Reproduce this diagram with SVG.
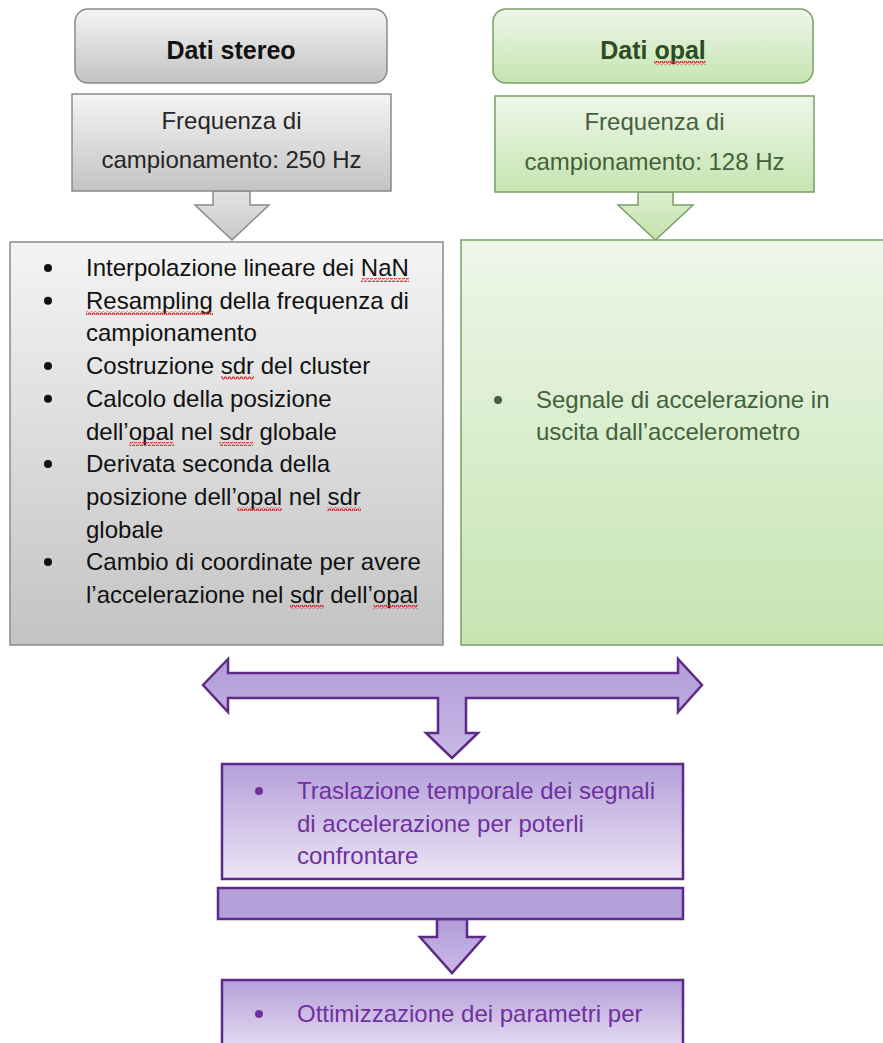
<svg xmlns="http://www.w3.org/2000/svg" width="883" height="1043" viewBox="0 0 883 1043">
<defs>
<linearGradient id="gGray" x1="0" y1="0" x2="0" y2="1"><stop offset="0" stop-color="#f4f4f4"/><stop offset="1" stop-color="#c3c3c3"/></linearGradient>
<linearGradient id="gGreen" x1="0" y1="0" x2="0" y2="1"><stop offset="0" stop-color="#eef6e9"/><stop offset="1" stop-color="#c5e5b1"/></linearGradient>
<linearGradient id="gPurple" x1="0" y1="0" x2="0" y2="1"><stop offset="0" stop-color="#b5a0da"/><stop offset="1" stop-color="#ece5f4"/></linearGradient>
<linearGradient id="gPurpleArrow" x1="0" y1="0" x2="0" y2="1"><stop offset="0" stop-color="#b29cd8"/><stop offset="1" stop-color="#c9b9e6"/></linearGradient>
<linearGradient id="gGrayArrow" x1="0" y1="0" x2="0" y2="1"><stop offset="0" stop-color="#e2e2e2"/><stop offset="1" stop-color="#c9c9c9"/></linearGradient>
<linearGradient id="gGreenArrow" x1="0" y1="0" x2="0" y2="1"><stop offset="0" stop-color="#dcefd0"/><stop offset="1" stop-color="#c2e2ac"/></linearGradient>
<pattern id="wave" width="4" height="4" patternUnits="userSpaceOnUse">
<path d="M0,3 L1,1 L2,1 L3,3 L4,3" fill="none" stroke="#d9232a" stroke-width="1.2"/>
</pattern>
<style>
.t{font-family:"Liberation Sans",Arial,sans-serif;font-size:24px}
.h{font-family:"Liberation Sans",Arial,sans-serif;font-size:25px;font-weight:bold}
.gray{fill:url(#gGray);stroke:#8a8a8a;stroke-width:1.5}
.green{fill:url(#gGreen);stroke:#7a9e66;stroke-width:1.5}
.purple{fill:url(#gPurple);stroke:#5e2a88;stroke-width:2.5}
.tg{fill:#262626}
.tgr{fill:#43613a}
.tp{fill:#7030a0}
.sq{fill:url(#wave)}
</style>
</defs>

<g id="connectors">
<path d="M213,191 L250,191 L250,205 L269,205 L232,240 L195,205 L213,205 Z" fill="url(#gGrayArrow)" stroke="#8a8a8a" stroke-width="1.5"/>
<path d="M638,192 L673,192 L673,205 L693,205 L655.5,240 L618,205 L638,205 Z" fill="url(#gGreenArrow)" stroke="#7a9e66" stroke-width="1.5"/>
<path d="M203,685 L228,659 L228,673 L678,673 L678,659 L702,685 L678,712 L678,698 L466,698 L466,733 L478,733 L452,758 L426,733 L438,733 L438,698 L228,698 L228,712 Z" fill="url(#gPurpleArrow)" stroke="#5e2a88" stroke-width="2.5" stroke-linejoin="miter"/>
<path d="M437,919 L467,919 L467,937 L484,937 L452,973 L420,937 L437,937 Z" fill="url(#gPurpleArrow)" stroke="#5e2a88" stroke-width="2.5"/>
</g>

<g id="dati-stereo">
<rect x="75" y="9" width="312" height="74" rx="13" class="gray"/>
<text x="231" y="59" text-anchor="middle" class="h" fill="#111">Dati stereo</text>
</g>

<g id="freq-stereo">
<rect x="72" y="94" width="319" height="97" class="gray"/>
<text x="231.5" y="129" text-anchor="middle" class="t tg">Frequenza di</text>
<text x="231.5" y="168" text-anchor="middle" class="t tg">campionamento: 250 Hz</text>
</g>

<g id="dati-opal">
<rect x="493" y="9" width="320" height="74" rx="13" class="green"/>
<text x="653" y="59" text-anchor="middle" class="h" fill="#2f4a24">Dati opal</text>
</g>

<g id="freq-opal">
<rect x="495" y="96" width="319" height="96" class="green"/>
<text x="654.5" y="130" text-anchor="middle" class="t tgr">Frequenza di</text>
<text x="654.5" y="170" text-anchor="middle" class="t tgr">campionamento: 128 Hz</text>
</g>

<g id="stereo-steps">
<rect x="10" y="242" width="433" height="403" class="gray"/>
<g fill="#111">
<circle cx="48" cy="268" r="4"/>
<circle cx="48" cy="300.7" r="4"/>
<circle cx="48" cy="366" r="4"/>
<circle cx="48" cy="398.8" r="4"/>
<circle cx="48" cy="464" r="4"/>
<circle cx="48" cy="562" r="4"/>
</g>
<g class="t" fill="#111">
<text x="86" y="276">Interpolazione lineare dei NaN</text>
<text x="86" y="308.7">Resampling della frequenza di</text>
<text x="86" y="341.4">campionamento</text>
<text x="86" y="374">Costruzione sdr del cluster</text>
<text x="86" y="406.8">Calcolo della posizione</text>
<text x="86" y="439.5">dell’opal nel sdr globale</text>
<text x="86" y="472">Derivata seconda della</text>
<text x="86" y="505">posizione dell’opal nel sdr</text>
<text x="86" y="537.6">globale</text>
<text x="86" y="570">Cambio di coordinate per avere</text>
<text x="86" y="603">l’accelerazione nel sdr dell’opal</text>
</g>
</g>

<g id="opal-steps">
<rect x="461" y="240" width="440" height="405" class="green"/>
<circle cx="498" cy="400" r="4" fill="#43613a"/>
<text x="536" y="408" class="t tgr">Segnale di accelerazione in</text>
<text x="536" y="440" class="t tgr">uscita dall’accelerometro</text>
</g>

<g id="traslazione">
<rect x="222" y="764" width="461" height="115" class="purple"/>
<circle cx="259" cy="791" r="4" fill="#7030a0"/>
<text x="297" y="799" class="t tp">Traslazione temporale dei segnali</text>
<text x="297" y="832" class="t tp">di accelerazione per poterli</text>
<text x="297" y="864" class="t tp">confrontare</text>
</g>

<g id="bar">
<rect x="218" y="888" width="465" height="31" fill="#b4a1d9" stroke="#5e2a88" stroke-width="2.5"/>
</g>

<g id="ottimizzazione">
<rect x="222" y="980" width="461" height="80" class="purple"/>
<circle cx="259" cy="1014" r="4" fill="#7030a0"/>
<text x="297" y="1022" class="t tp">Ottimizzazione dei parametri per</text>
</g>

<g id="spellcheck">
<rect x="654" y="61" width="52" height="4" class="sq"/>
<rect x="361" y="278" width="48" height="4" class="sq"/>
<rect x="86" y="311" width="127" height="4" class="sq"/>
<rect x="221" y="376" width="33" height="4" class="sq"/>
<rect x="129" y="442" width="45" height="4" class="sq"/>
<rect x="219" y="442" width="34" height="4" class="sq"/>
<rect x="237" y="507" width="45" height="4" class="sq"/>
<rect x="327" y="507" width="34" height="4" class="sq"/>
<rect x="290" y="605" width="34" height="4" class="sq"/>
<rect x="373" y="605" width="45" height="4" class="sq"/>
</g>
</svg>
